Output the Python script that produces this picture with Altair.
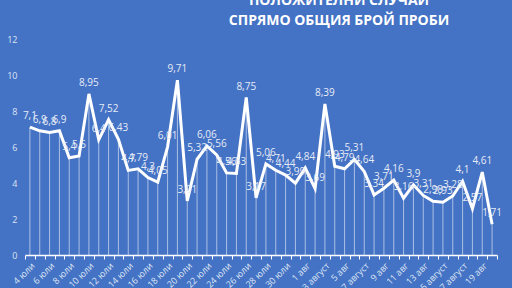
import altair as alt
import pandas as pd

days = [
    "4 юли", "5 юли", "6 юли", "7 юли", "8 юли", "9 юли", "10 юли", "11 юли",
    "12 юли", "13 юли", "14 юли", "15 юли", "16 юли", "17 юли", "18 юли", "19 юли",
    "20 юли", "21 юли", "22 юли", "23 юли", "24 юли", "25 юли", "26 юли", "27 юли",
    "28 юли", "29 юли", "30 юли", "31 юли", "1 авг", "2 авг", "3 август", "4 авг",
    "5 авг", "6 авг", "7 август", "8 авг", "9 авг", "10 авг", "11 авг", "12 авг",
    "13 авг", "14 авг", "15 август", "16 авг", "17 август", "18 авг", "19 авг", "20 авг",
]
values = [
    7.1, 6.9, 6.8, 6.9, 5.4, 5.5, 8.95, 6.4,
    7.52, 6.43, 4.7, 4.79, 4.3, 4.05, 6.01, 9.71,
    3.01, 5.32, 6.06, 5.56, 4.56, 4.53, 8.75, 3.17,
    5.06, 4.71, 4.44, 3.99, 4.84, 3.69, 8.39, 4.93,
    4.79, 5.31, 4.64, 3.34, 3.71, 4.16, 3.16, 3.9,
    3.31, 2.98, 2.93, 3.28, 4.1, 2.57, 4.61, 1.71,
]
shown = days[0::2]
title_lines = ["ПОЛОЖИТЕЛНИ СЛУЧАИ", "СПРЯМО ОБЩИЯ БРОЙ ПРОБИ"]

df = pd.DataFrame({"day": days, "v": values})
df["lbl"] = [str(v).replace(".", ",") for v in values]

shown_js = "[" + ",".join("'" + s + "'" for s in shown) + "]"

x = alt.X(
    "day:N", sort=days, title=None,
    scale=alt.Scale(paddingInner=0, paddingOuter=0),
    axis=alt.Axis(
        labelAngle=-45, labelFontSize=9, labelColor="#dfe6f4", labelFont="Open Sans",
        tickBand="extent", tickColor="#ffffff", tickSize=4, domainColor="#ffffff",
        domainWidth=1.5, labelPadding=2,
        labelExpr="indexof(" + shown_js + ", datum.value) >= 0 ? datum.label : ''",
    ),
)
y = alt.Y(
    "v:Q", title=None,
    scale=alt.Scale(domain=[0, 12]),
    axis=alt.Axis(values=[0, 2, 4, 6, 8, 10, 12], grid=False, domain=False, ticks=False,
                  labelFontSize=9, labelColor="#dfe6f4", labelFont="Open Sans",
                  labelPadding=8),
)

base = alt.Chart(df)
rules = base.mark_rule(color="#ffffff", opacity=0.55, strokeWidth=1).encode(
    x=x, y=y, y2=alt.datum(0)
)
line = base.mark_line(color="#ffffff", strokeWidth=3).encode(x=x, y=y)
labels = base.mark_text(fontSize=10, color="#e6ecf7", baseline="bottom", dy=-6,
                        font="Open Sans").encode(x=x, y=y, text="lbl:N")

chart = alt.layer(rules, line, labels).properties(
    width=472, height=216,
    background="#4472c4",
    padding={"left": 25, "top": 39, "right": 15, "bottom": 33},
    autosize=alt.AutoSizeParams(type="none"),
    title=alt.TitleParams(
        text=title_lines, fontSize=14, fontWeight="bold", color="#ffffff",
        font="Open Sans", lineHeight=20, anchor="middle", dx=78, offset=7,
    ),
).configure_view(stroke=None)

chart.save("out.html", embed_options={"renderer": "svg", "actions": False})
